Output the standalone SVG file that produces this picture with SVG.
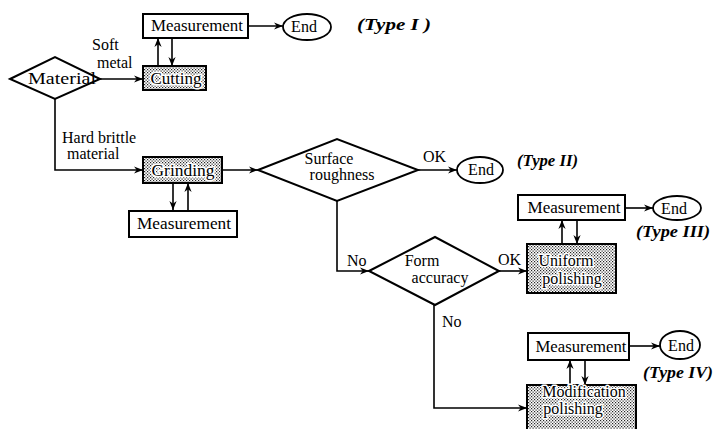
<svg xmlns="http://www.w3.org/2000/svg" width="714" height="429" viewBox="0 0 714 429">
<defs>
<pattern id="dots" width="3" height="3" patternUnits="userSpaceOnUse">
<rect width="3" height="3" fill="#ffffff"/>
<rect x="0" y="0" width="1.2" height="1.2" fill="#222"/>
<rect x="1.5" y="1.5" width="1.2" height="1.2" fill="#222"/>
</pattern>
<marker id="arr" viewBox="0 0 10 10" refX="10" refY="5" markerWidth="9" markerHeight="9" markerUnits="userSpaceOnUse" orient="auto">
<path d="M0,1 L10,5 L0,9 L3,5 Z" fill="#000"/>
</marker>
<style>
.box{fill:#fff;stroke:#000;stroke-width:2}
.shade{fill:url(#dots);stroke:#000;stroke-width:2}
.dia{fill:#fff;stroke:#000;stroke-width:2}
.ell{fill:#fff;stroke:#000;stroke-width:1.8}
.t{font-family:"Liberation Serif","Times New Roman",serif;font-size:16px;fill:#000}
.c{text-anchor:middle}
.h{stroke:#fff;stroke-width:3;paint-order:stroke;stroke-linejoin:round}
.ty{font-family:"Liberation Serif","Times New Roman",serif;font-size:16px;font-weight:bold;font-style:italic;fill:#000}
.ln{fill:none;stroke:#000;stroke-width:1.6}
</style>
</defs>
<rect width="714" height="429" fill="#fff"/>

<g id="connectors">
<path class="ln" d="M100,79 H143" marker-end="url(#arr)"/>
<path class="ln" d="M158,66 V38" marker-end="url(#arr)"/>
<path class="ln" d="M172,38 V66" marker-end="url(#arr)"/>
<path class="ln" d="M248,26 H283" marker-end="url(#arr)"/>
<path class="ln" d="M55,99 V170 H143" marker-end="url(#arr)"/>
<path class="ln" d="M173,183 V210" marker-end="url(#arr)"/>
<path class="ln" d="M188,210 V183" marker-end="url(#arr)"/>
<path class="ln" d="M222,170 H258" marker-end="url(#arr)"/>
<path class="ln" d="M418,170 H457" marker-end="url(#arr)"/>
<path class="ln" d="M337,201 V271 H369" marker-end="url(#arr)"/>
<path class="ln" d="M499,271 H527" marker-end="url(#arr)"/>
<path class="ln" d="M562,244 V220" marker-end="url(#arr)"/>
<path class="ln" d="M577,220 V244" marker-end="url(#arr)"/>
<path class="ln" d="M625,208 H653" marker-end="url(#arr)"/>
<path class="ln" d="M434,305 V408 H527" marker-end="url(#arr)"/>
<path class="ln" d="M570,385 V360" marker-end="url(#arr)"/>
<path class="ln" d="M585,360 V385" marker-end="url(#arr)"/>
<path class="ln" d="M629,346 H660" marker-end="url(#arr)"/>
<text class="t" x="92" y="50">Soft</text>
<text class="t" x="97" y="68">metal</text>
<text class="t" x="62" y="143">Hard brittle</text>
<text class="t" x="67" y="159">material</text>
<text class="t" x="423" y="162">OK</text>
<text class="t" x="347" y="266">No</text>
<text class="t" x="498" y="265">OK</text>
<text class="t" x="442" y="327">No</text>
</g>

<g id="material">
<polygon class="dia" points="10,79 55,57 100,79 55,99"/>
<text class="t c" x="62" y="84" textLength="68" lengthAdjust="spacingAndGlyphs">Material</text>
</g>

<g id="measurement1">
<rect class="box" x="143" y="14" width="105" height="24"/>
<text class="t c" x="197" y="31" textLength="92" lengthAdjust="spacingAndGlyphs">Measurement</text>
</g>

<g id="end1">
<ellipse class="ell" cx="307" cy="27" rx="24" ry="13"/>
<text class="t c" x="304" y="32">End</text>
</g>
<text class="ty" x="357" y="30" textLength="74" lengthAdjust="spacingAndGlyphs">(Type I )</text>

<g id="cutting">
<rect class="shade" x="143" y="66" width="63" height="24"/>
<text class="t c h" x="176" y="84" textLength="51" lengthAdjust="spacingAndGlyphs">Cutting</text>
</g>

<g id="grinding">
<rect class="shade" x="143" y="157" width="79" height="26"/>
<text class="t c h" x="183" y="176" textLength="63" lengthAdjust="spacingAndGlyphs">Grinding</text>
</g>

<g id="measurement2">
<rect class="box" x="129" y="211" width="108" height="26"/>
<text class="t c" x="184" y="229" textLength="94" lengthAdjust="spacingAndGlyphs">Measurement</text>
</g>

<g id="surface">
<polygon class="dia" points="258,170 337,139 418,170 337,201"/>
<text class="t c" x="329" y="164">Surface</text>
<text class="t c" x="342" y="180">roughness</text>
</g>

<g id="end2">
<ellipse class="ell" cx="480" cy="170" rx="23" ry="13"/>
<text class="t c" x="481" y="175">End</text>
</g>
<text class="ty" x="517" y="166" textLength="61" lengthAdjust="spacingAndGlyphs">(Type II)</text>

<g id="form">
<polygon class="dia" points="369,271 435,237 499,271 435,305"/>
<text class="t c" x="422" y="266">Form</text>
<text class="t c" x="440" y="283">accuracy</text>
</g>

<g id="uniform">
<rect class="shade" x="527" y="244" width="89" height="49"/>
<text class="t c h" x="566" y="266">Uniform</text>
<text class="t c h" x="572" y="284">polishing</text>
</g>

<g id="measurement3">
<rect class="box" x="518" y="195" width="107" height="25"/>
<text class="t c" x="574" y="213" textLength="93" lengthAdjust="spacingAndGlyphs">Measurement</text>
</g>

<g id="end3">
<ellipse class="ell" cx="677" cy="208" rx="24" ry="12"/>
<text class="t c" x="674" y="214">End</text>
</g>
<text class="ty" x="636" y="237" textLength="74" lengthAdjust="spacingAndGlyphs">(Type III)</text>

<g id="modification">
<rect class="shade" x="527" y="385" width="109" height="46"/>
<text class="t c h" x="584" y="397">Modification</text>
<text class="t c h" x="573" y="414">polishing</text>
</g>

<g id="measurement4">
<rect class="box" x="528" y="333" width="101" height="27"/>
<text class="t c" x="581" y="352" textLength="91" lengthAdjust="spacingAndGlyphs">Measurement</text>
</g>

<g id="end4">
<ellipse class="ell" cx="680" cy="345" rx="20" ry="14"/>
<text class="t c" x="681" y="351">End</text>
</g>
<text class="ty" x="643" y="378" textLength="70" lengthAdjust="spacingAndGlyphs">(Type IV)</text>
</svg>
